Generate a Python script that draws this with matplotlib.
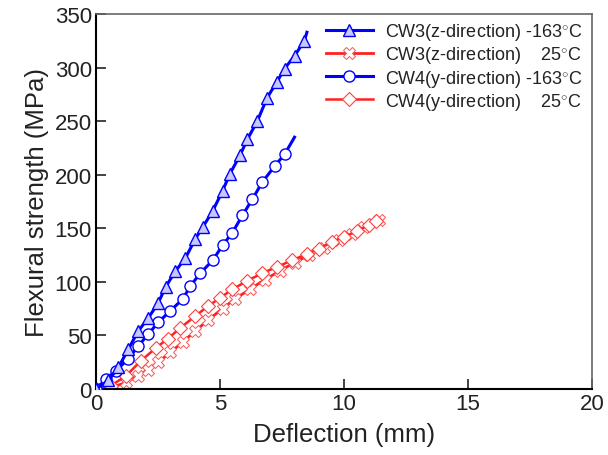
import matplotlib
matplotlib.use('Agg')
import matplotlib.pyplot as plt

plt.rcParams['font.family'] = ['Liberation Sans', 'DejaVu Sans']
plt.rcParams['mathtext.fontset'] = 'custom'
plt.rcParams['mathtext.rm'] = 'Liberation Sans'

# CW3 (z-direction) -163 C
cw3_cold_x = [0, 0.5, 0.9, 1.3, 1.7, 2.1, 2.5, 2.8, 3.2, 3.6, 4.0, 4.3, 4.7, 5.1, 5.4,
              5.8, 6.1, 6.5, 6.9, 7.3, 7.6, 8.0, 8.4, 8.5]
cw3_cold_y = [0, 8, 20, 37, 54, 66, 80, 95, 110, 122, 140, 151, 166, 185, 201,
              218, 233, 250, 272, 287, 299, 311, 325, 333]

# CW3 (z-direction) 25 C
cw3_warm_x = [0, 0.6, 1.2, 1.7, 2.1, 2.5, 3.0, 3.5, 4.0, 4.5, 5.1, 5.6, 6.2, 6.8, 7.4,
              8.0, 8.6, 9.2, 9.8, 10.3, 10.8, 11.4]
cw3_warm_y = [0, 1, 6, 12, 18, 25, 34, 44, 54, 64, 75, 84, 93, 102, 110,
              118, 125, 132, 139, 145, 151, 158]

# CW4 (y-direction) -163 C
cw4_cold_x = [0, 0.4, 0.8, 1.3, 1.7, 2.1, 2.5, 3.0, 3.5, 3.8, 4.2, 4.7, 5.1, 5.5, 5.9,
              6.3, 6.7, 7.2, 7.6, 8.0]
cw4_cold_y = [0, 9, 17, 28, 40, 51, 62, 73, 84, 96, 108, 120, 134, 146, 162,
              177, 193, 208, 219, 235]

# CW4 (y-direction) 25 C
cw4_warm_x = [0, 0.6, 1.2, 1.8, 2.4, 2.9, 3.4, 4.0, 4.5, 5.0, 5.5, 6.1, 6.7, 7.3, 7.9,
              8.5, 9.0, 9.5, 10.0, 10.5, 11.0, 11.3]
cw4_warm_y = [0, 3, 12, 26, 38, 47, 57, 68, 77, 85, 93, 101, 108, 114, 120,
              126, 131, 137, 142, 147, 153, 157]

labels = ['CW3(z-direction) -163$^{\\circ}$C',
          'CW3(z-direction)    25$^{\\circ}$C',
          'CW4(y-direction) -163$^{\\circ}$C',
          'CW4(y-direction)    25$^{\\circ}$C']

fig = plt.figure(figsize=(6.08, 4.56), dpi=100)
ax = fig.add_axes([0.158, 0.145, 0.816, 0.822])

blue = '#0000ff'
red = '#ff2020'
txt = '#222222'

ax.plot(cw3_cold_x, cw3_cold_y, color=blue, lw=2.2, marker='^', ms=9, mfc='#c8c8ff',
        mec=blue, mew=1, markevery=list(range(len(cw3_cold_x) - 1)), label=labels[0], zorder=4)
ax.plot(cw3_warm_x, cw3_warm_y, color=red, lw=2, marker='X', ms=9, mfc='white',
        mec='#ff5050', mew=0.7, label=labels[1], zorder=2)
ax.plot(cw4_cold_x, cw4_cold_y, color=blue, lw=2.2, marker='o', ms=8, mfc='white',
        mec=blue, mew=1, markevery=list(range(len(cw4_cold_x) - 1)), label=labels[2], zorder=3)
ax.plot(cw4_warm_x, cw4_warm_y, color=red, lw=1.8, marker='D', ms=7, mfc='white',
        mec='#ff4040', mew=0.8, label=labels[3], zorder=2)

ax.set_xlim(0, 20)
ax.set_ylim(0, 350)
ax.set_xticks([0, 5, 10, 15, 20])
ax.set_yticks(range(0, 351, 50))
ax.tick_params(direction='in', length=7, labelsize=16, width=1.2, colors=txt, pad=3)
for s in ['left', 'bottom']:
    ax.spines[s].set_linewidth(1.5)
for s in ['top', 'right']:
    ax.spines[s].set_linewidth(1.2)
    ax.spines[s].set_color('#666666')

ax.set_xlabel('Deflection (mm)', fontsize=18.5, color=txt, labelpad=6)
ax.set_ylabel('Flexural strength (MPa)', fontsize=18.5, color=txt, labelpad=4)

leg = ax.legend(loc='upper right', frameon=False, fontsize=13, handlelength=2.6,
                borderaxespad=0.0, labelspacing=0.12, handletextpad=0.7,
                bbox_to_anchor=(0.995, 1.0))
for t in leg.get_texts():
    t.set_color(txt)

fig.savefig('out.png', dpi=100)
